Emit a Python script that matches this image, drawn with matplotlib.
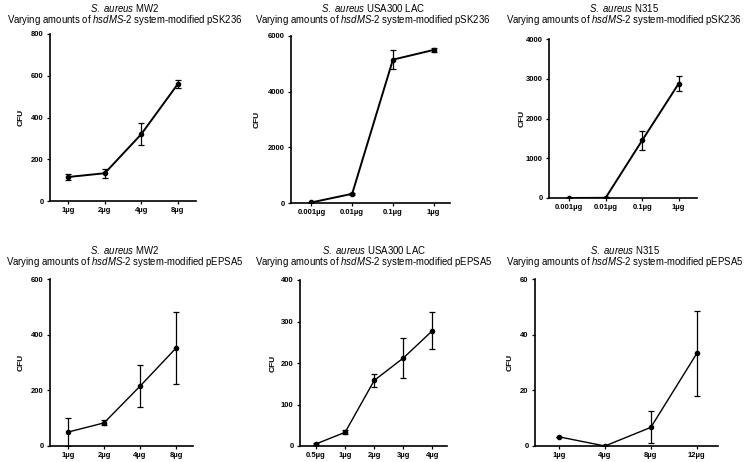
import matplotlib
matplotlib.use("Agg")
import matplotlib.pyplot as plt

plt.rcParams["font.family"] = ["Liberation Sans", "DejaVu Sans"]
plt.rcParams["mathtext.fontset"] = "custom"
plt.rcParams["mathtext.rm"] = "Liberation Sans"
plt.rcParams["mathtext.it"] = "Liberation Sans:italic"

# top row: pSK236
mw2_sk_labels = ["1µg", "2µg", "4µg", "8µg"]
mw2_sk_mean = [115, 133, 320, 560]
mw2_sk_err = [15, 22, 52, 18]

lac_sk_labels = ["0.001µg", "0.01µg", "0.1µg", "1µg"]
lac_sk_mean = [20, 330, 5150, 5500]
lac_sk_err = [15, 40, 340, 80]

n315_sk_labels = ["0.001µg", "0.01µg", "0.1µg", "1µg"]
n315_sk_mean = [0, 5, 1450, 2880]
n315_sk_err = [0, 10, 240, 190]

# bottom row: pEPSA5
mw2_ep_labels = ["1µg", "2µg", "4µg", "8µg"]
mw2_ep_mean = [50, 83, 215, 352]
mw2_ep_err = [50, 9, 75, 130]

lac_ep_labels = ["0.5µg", "1µg", "2µg", "3µg", "4µg"]
lac_ep_mean = [5, 33, 158, 212, 278]
lac_ep_err = [3, 5, 16, 48, 45]

n315_ep_labels = ["1µg", "4µg", "8µg", "12µg"]
n315_ep_mean = [3.3, 0, 6.7, 33.3]
n315_ep_err = [0, 0, 5.8, 15.3]

W, H = 750, 462
fig = plt.figure(figsize=(W / 100, H / 100), dpi=100)


def make_axes(left, right, top, bottom):
    return fig.add_axes([left / W, 1 - bottom / H, (right - left) / W, (bottom - top) / H])


panels = [
    # box (l, r, t, b), labels, mean, err, ymax, ystep, xlim, strain, plasmid, title x, title ys, cfu x, line width
    ((50, 196, 34, 201), mw2_sk_labels, mw2_sk_mean, mw2_sk_err, 800, 200, (-0.5, 3.5), "MW2", "pSK236", 125, (8, 20), 21, 1.4),
    ((291, 450, 36, 203), lac_sk_labels, lac_sk_mean, lac_sk_err, 6000, 2000, (-0.5, 3.4), "USA300 LAC", "pSK236", 373, (8, 20), 257, 1.4),
    ((549, 697, 39, 198), n315_sk_labels, n315_sk_mean, n315_sk_err, 4000, 1000, (-0.55, 3.5), "N315", "pSK236", 624, (8, 20), 522, 1.4),
    ((50, 193, 279, 446), mw2_ep_labels, mw2_ep_mean, mw2_ep_err, 600, 200, (-0.5, 3.47), "MW2", "pEPSA5", 125, (250, 262), 21, 1.0),
    ((300, 447, 280, 446), lac_ep_labels, lac_ep_mean, lac_ep_err, 400, 100, (-0.55, 4.5), "USA300 LAC", "pEPSA5", 374, (250, 262), 273, 1.0),
    ((535, 718, 279, 446), n315_ep_labels, n315_ep_mean, n315_ep_err, 60, 20, (-0.52, 3.46), "N315", "pEPSA5", 625, (250, 262), 510, 1.0),
]

for box, labels, mean, err, ymax, ystep, xlim, strain, plasmid, tx, ty, cx, lw in panels:
    ax = make_axes(*box)
    x = list(range(len(labels)))
    ax.errorbar(x, mean, yerr=err, color="black", lw=lw, elinewidth=0.9,
                capsize=2.2, capthick=0.9, marker="o", markersize=3)
    ax.set_xlim(*xlim)
    ax.set_ylim(0, ymax)
    ax.set_yticks(range(0, ymax + 1, ystep))
    ax.set_xticks(x)
    ax.set_xticklabels(labels)
    ax.spines["top"].set_visible(False)
    ax.spines["right"].set_visible(False)
    ax.spines["left"].set_linewidth(1.2)
    ax.spines["bottom"].set_linewidth(1.2)
    ax.tick_params(labelsize=5.5, length=2.5, width=0.9, pad=2)
    for lab in ax.get_xticklabels() + ax.get_yticklabels():
        lab.set_fontweight("bold")

    # y label placed at the same spot as in the reference
    mid = 1 - (box[2] + box[3]) / 2 / H
    fig.text(cx / W, mid, "CFU", rotation=90, ha="center", va="center",
             fontsize=6, fontweight="bold")

    fig.text(tx / W, 1 - ty[0] / H, r"$\mathit{S.\ aureus}$ " + strain,
             ha="center", va="center", fontsize=6.9)
    fig.text(tx / W, 1 - ty[1] / H,
             r"Varying amounts of $\mathit{hsdMS}$-2 system-modified " + plasmid,
             ha="center", va="center", fontsize=6.9)

fig.savefig("out.png", dpi=100)
